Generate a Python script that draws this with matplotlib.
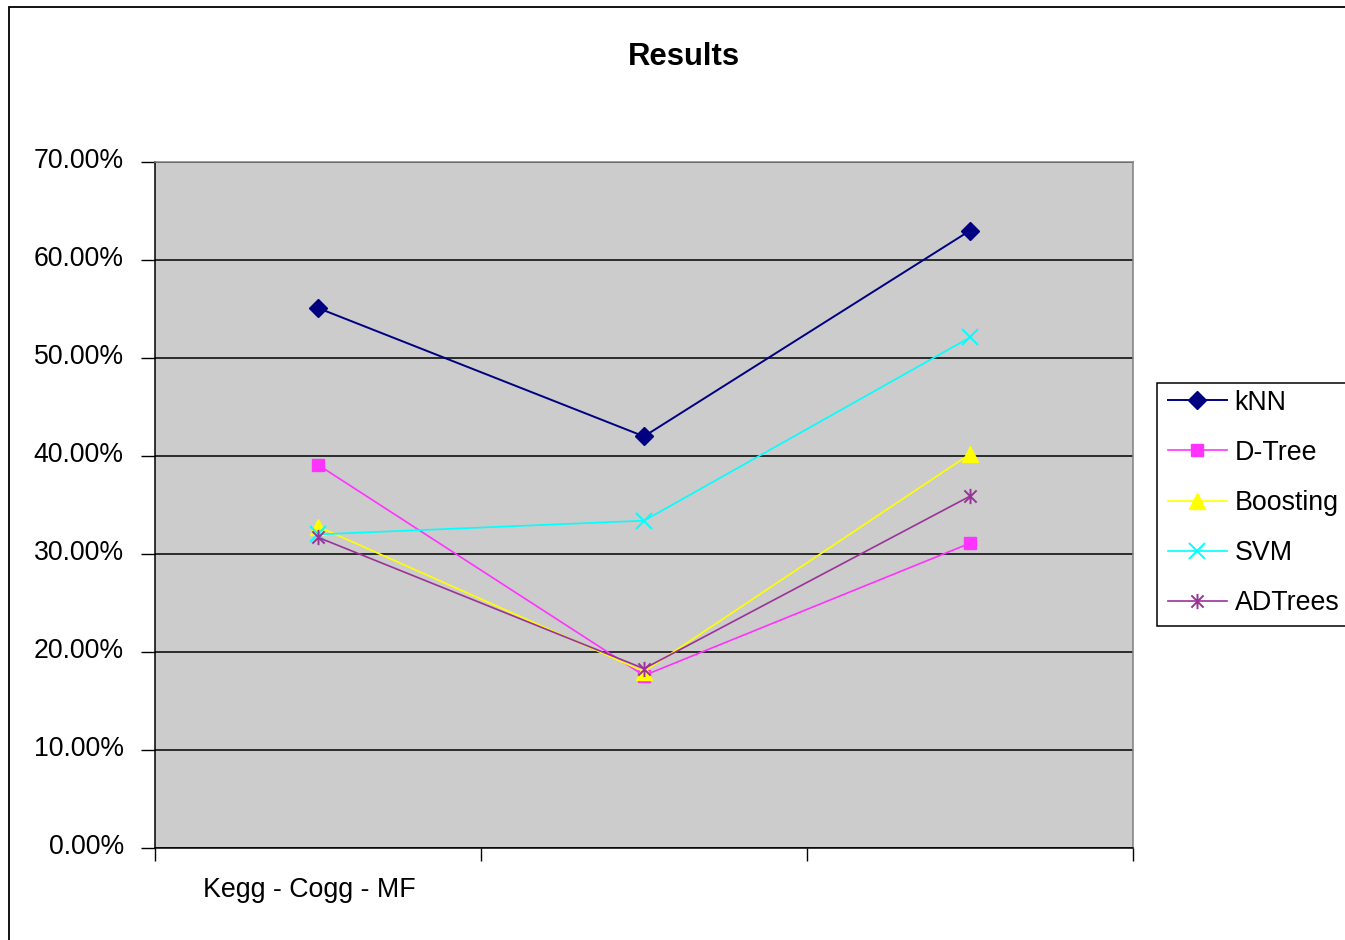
import matplotlib
matplotlib.use("Agg")
import matplotlib.pyplot as plt
from matplotlib.patches import Rectangle
from matplotlib.path import Path
from matplotlib.ticker import FuncFormatter
from matplotlib.transforms import ScaledTranslation

categories = ["Kegg - Cogg - MF", "", ""]
series_names = ["kNN", "D-Tree", "Boosting", "SVM", "ADTrees"]
knn = [55.1, 42.0, 63.0]
dtree = [39.1, 17.6, 31.1]
boosting = [32.8, 18.0, 40.2]
svm = [32.0, 33.4, 52.1]
adtrees = [31.7, 18.3, 35.9]
y_ticks = [0, 10, 20, 30, 40, 50, 60, 70]

# spreadsheet-style asterisk: vertical bar plus a diagonal cross
asterisk = Path(
    [(0, -1), (0, 1), (-0.8, -0.8), (0.8, 0.8), (-0.8, 0.8), (0.8, -0.8)],
    [Path.MOVETO, Path.LINETO] * 3,
)

styles = [
    dict(color="#000080", marker="D", ms=9, lw=1.4),
    dict(color="#FF33FF", marker="s", ms=9, lw=1.2),
    dict(color="#FFFF00", marker="^", ms=11, lw=1.2),
    dict(color="#00FFFF", marker="x", ms=11, lw=1.2, mew=1.4),
    dict(color="#993399", marker=asterisk, ms=11, lw=1.2, mew=1.4, mfc="none"),
]

plt.rcParams["font.family"] = ["Liberation Sans", "DejaVu Sans"]

fig = plt.figure(figsize=(13.45, 9.40), dpi=100)
fig.patch.set_facecolor("white")

# chart border and legend box both run past the right edge of the image
fig.patches.append(
    Rectangle((9 / 1345, -0.05), 1.2, 1.05 - 7 / 940, transform=fig.transFigure,
              fill=False, edgecolor="black", linewidth=1.3)
)
fig.patches.append(
    Rectangle((1157 / 1345, 1 - 626 / 940), 0.2, 243 / 940, transform=fig.transFigure,
              facecolor="white", edgecolor="black", linewidth=1.1, zorder=2)
)

ax = fig.add_axes([155 / 1345, 1 - 848 / 940, 978 / 1345, 686 / 940])
ax.set_facecolor("#CCCCCC")

x = [i + 0.5 for i in range(len(categories))]
for name, values, st in zip(series_names, [knn, dtree, boosting, svm, adtrees], styles):
    ax.plot(x, values, label=name, color=st["color"], marker=st["marker"],
            markersize=st["ms"], linewidth=st["lw"],
            markeredgewidth=st.get("mew", 1.0),
            markerfacecolor=st.get("mfc", st["color"]),
            markeredgecolor=st["color"], zorder=3)

ax.set_xlim(0, len(categories))
ax.set_ylim(0, 70)
ax.set_yticks(y_ticks)
ax.yaxis.set_major_formatter(FuncFormatter(lambda v, _: f"{v:.2f}%"))
ax.grid(axis="y", color="black", linewidth=1.1, zorder=1)
ax.set_axisbelow(True)

ax.set_xticks(range(len(categories) + 1))
ax.set_xticklabels([])
ax.set_xticks(x, minor=True)
ax.set_xticklabels(categories, minor=True)
ax.tick_params(axis="x", which="major", direction="out", length=9, width=1, color="black")
ax.tick_params(axis="x", which="minor", length=0, pad=21, labelsize=19.3)
ax.tick_params(axis="y", direction="out", length=10, width=1, pad=12.5, labelsize=19.2)

# value labels sit a little above their gridlines, category label a bit left
for lbl in ax.get_yticklabels():
    lbl.set_transform(lbl.get_transform() + ScaledTranslation(0, 4 / 100, fig.dpi_scale_trans))
for lbl in ax.get_xticklabels(minor=True):
    lbl.set_transform(lbl.get_transform() + ScaledTranslation(-9 / 100, 0, fig.dpi_scale_trans))

for side in ("left", "bottom"):
    ax.spines[side].set_color("black")
    ax.spines[side].set_linewidth(1.1)
for side in ("top", "right"):
    ax.spines[side].set_color("#808080")
    ax.spines[side].set_linewidth(1.1)

fig.text(684 / 1345, 1 - 57 / 940, "Results", ha="center", va="center",
         fontsize=22.4, fontweight="bold")

leg = fig.legend(loc="upper left", bbox_to_anchor=(1161 / 1345, 1 - 383 / 940),
                 bbox_transform=fig.transFigure, fontsize=19.3, frameon=False,
                 labelspacing=0.9, handlelength=2.2, handletextpad=0.3,
                 borderpad=0.25, borderaxespad=0)
leg.set_zorder(3)

fig.savefig("out.png", dpi=100)
